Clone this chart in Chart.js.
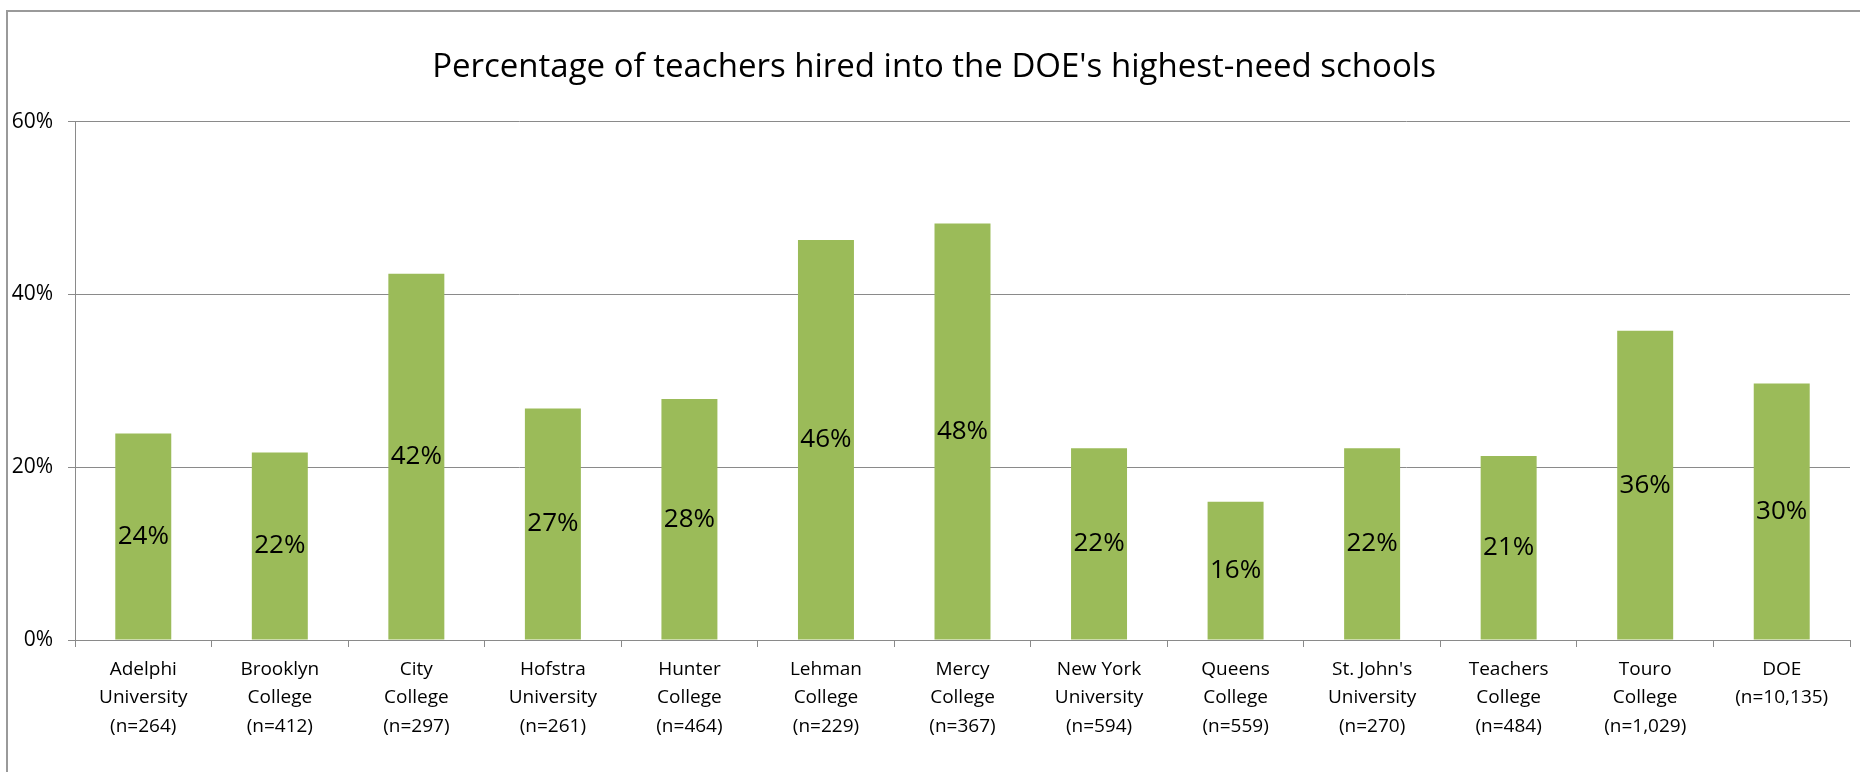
<!DOCTYPE html>
<html>
<head>
<meta charset="utf-8">
<script src="https://cdn.jsdelivr.net/npm/chart.js@4.4.1/dist/chart.umd.min.js"></script>
<style>
    html, body { margin: 0; padding: 0; background: #fff; }
    #wrap { position: relative; width: 1860px; height: 772px; overflow: hidden; }
    #frame { position: absolute; left: 6px; top: 10px; width: 1900px; height: 800px;
             border-left: 2px solid #9a9a9a; border-top: 2px solid #9a9a9a; box-sizing: border-box; }
    #chart { position: absolute; left: 0; top: 0; }
</style>
</head>
<body>
<div id="wrap">
    <div id="frame"></div>
    <canvas id="chart" width="1860" height="772"></canvas>
</div>
<script>
const chartTitle = "Percentage of teachers hired into the DOE's highest-need schools";
const schools = [
    ["Adelphi", "University", "(n=264)"],
    ["Brooklyn", "College", "(n=412)"],
    ["City", "College", "(n=297)"],
    ["Hofstra", "University", "(n=261)"],
    ["Hunter", "College", "(n=464)"],
    ["Lehman", "College", "(n=229)"],
    ["Mercy", "College", "(n=367)"],
    ["New York", "University", "(n=594)"],
    ["Queens", "College", "(n=559)"],
    ["St. John's", "University", "(n=270)"],
    ["Teachers", "College", "(n=484)"],
    ["Touro", "College", "(n=1,029)"],
    ["DOE", "(n=10,135)"]
];
const hiredPct = [23.9, 21.7, 42.4, 26.8, 27.9, 46.3, 48.2, 22.2, 16.0, 22.2, 21.3, 35.8, 29.7];
const yTicks = [0, 20, 40, 60];

const FONT = "'Open Sans', 'Noto Sans', sans-serif";
const GRID = '#8a8a8a';

// draws "24%" in the middle of every bar
const barLabels = {
    id: 'barLabels',
    afterLayout(chart) {
        // the original title is centred on the whole chart box, a bit right of the canvas middle
        if (chart.titleBlock) chart.titleBlock.left += 18;
    },
    afterDatasetsDraw(chart) {
        const ctx = chart.ctx;
        const meta = chart.getDatasetMeta(0);
        ctx.save();
        ctx.font = "26px " + FONT;
        ctx.fillStyle = '#000';
        ctx.textAlign = 'center';
        ctx.textBaseline = 'middle';
        meta.data.forEach((bar, i) => {
            ctx.fillText(Math.round(hiredPct[i]) + '%', bar.x, (bar.y + bar.base) / 2);
        });
        ctx.restore();
    }
};

new Chart(document.getElementById('chart').getContext('2d'), {
    type: 'bar',
    data: {
        labels: schools,
        datasets: [{
            data: hiredPct,
            backgroundColor: '#9bbb59',
            borderWidth: 0,
            barPercentage: 0.41,
            categoryPercentage: 1
        }]
    },
    options: {
        responsive: false,
        animation: false,
        layout: { padding: { left: 0, right: 10, top: 0, bottom: 0 } },
        plugins: {
            legend: { display: false },
            tooltip: { enabled: false },
            title: {
                display: true,
                text: chartTitle,
                color: '#000',
                font: { family: FONT, size: 33, weight: 'normal' },
                padding: { top: 48, bottom: 34 }
            }
        },
        scales: {
            x: {
                grid: { drawOnChartArea: false, drawTicks: true, tickLength: 7, color: GRID },
                border: { display: true, color: GRID },
                ticks: {
                    color: '#000',
                    padding: 8,
                    maxRotation: 0,
                    autoSkip: false,
                    font: { family: FONT, size: 19, lineHeight: 1.5 }
                },
                afterFit(scale) { scale.height = 132; }
            },
            y: {
                min: 0,
                max: 60,
                afterBuildTicks(scale) { scale.ticks = yTicks.map(v => ({ value: v })); },
                grid: { color: GRID, tickLength: 7 },
                border: { display: true, color: GRID },
                ticks: {
                    color: '#000',
                    padding: 15,
                    font: { family: FONT, size: 21 },
                    callback: v => v + '%'
                },
                afterFit(scale) { scale.width = 75; }
            }
        }
    },
    plugins: [barLabels]
});
</script>
</body>
</html>
